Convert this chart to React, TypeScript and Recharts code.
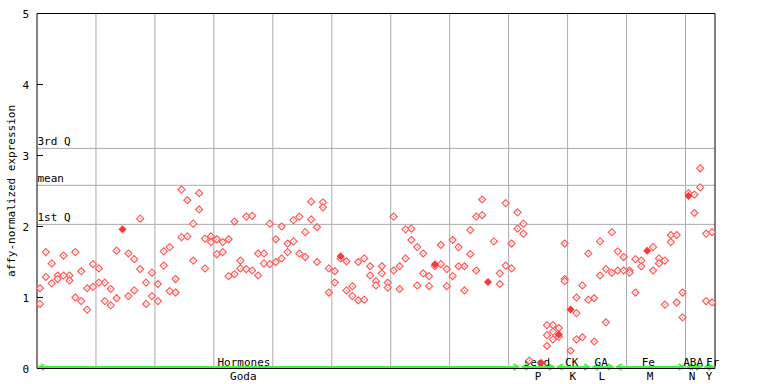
import React from "react";
import {
  ScatterChart,
  Scatter,
  XAxis,
  YAxis,
  ReferenceLine,
  ReferenceDot,
} from "recharts";

const FONT = "'DejaVu Sans Mono', monospace";
const RED = "#ff5a5a";
const GREEN = "#3cf53c";
const GRID = "#aaaaaa";

// one value per sample column (115 columns), two replicates each
const hi: (number | null)[] = [
  1.13, 1.64, 1.48, 1.31, 1.59, 1.31, 1.64, 1.37, 1.13, 1.47,
  1.41, 1.21, 1.12, 1.66, null, 1.62, 1.54, 2.11, 1.21, 1.35,
  1.19, 1.65, 1.71, 1.26, 2.52, 2.37, 2.04, 2.47, 1.83, 1.86,
  1.82, 1.78, 1.82, 2.07, 1.52, 2.14, 2.15, 1.62, 1.62, 2.04,
  1.82, 2.0, 1.76, 2.09, 2.14, 1.92, 2.35, 1.99, 2.34, 1.41,
  1.37, 1.55, 1.51, 1.16, 1.5, 1.55, 1.44, 1.23, 1.44, 1.21,
  2.14, 1.44, 1.96, 1.97, 1.71, 1.62, 1.3, 1.44, 1.74, 1.4,
  1.81, 1.71, 1.44, 1.95, 2.14, 2.38, null, 1.79, 1.34, 2.33,
  1.76, 2.2, 2.04, 0.11, null, null, 0.61, 0.61, 0.57, 1.76,
  0.25, 1.0, 1.17, 1.62, 0.99, 1.79, 1.4, 1.92, 1.65, 1.57,
  1.38, 1.54, 1.52, null, 1.71, 1.55, 1.52, 1.88, 1.88, 1.07,
  2.47, 2.45, 2.82, 1.9, 1.92,
];

const lo: (number | null)[] = [
  0.91, 1.29, 1.2, 1.26, 1.31, 1.24, 1.0, 0.95, 0.83, 1.15,
  1.21, 0.95, 0.89, 0.99, null, 1.02, 1.1, 1.4, 0.91, 1.02,
  0.95, 1.45, 1.09, 1.07, 1.85, 1.86, 1.52, 2.24, 1.41, 1.78,
  1.61, 1.64, 1.3, 1.33, 1.41, 1.4, 1.38, 1.31, 1.48, 1.47,
  1.5, 1.55, 1.64, 1.79, 1.62, 1.57, 2.1, 1.5, 2.27, 1.07,
  1.21, null, 1.1, 1.02, 0.96, 0.97, 1.31, 1.17, 1.34, 1.14,
  1.38, 1.12, 1.55, 1.81, 1.17, 1.34, 1.16, null, 1.47, 1.16,
  1.3, 1.44, 1.1, 1.61, 1.38, 2.16, null, null, 1.19, 1.45,
  1.41, 1.97, 1.9, null, null, null, 0.47, 0.52, 0.45, 1.26,
  null, 0.78, 0.44, 0.97, 0.38, 1.31, 0.65, 1.35, 1.38, 1.38,
  1.35, 1.07, 1.44, null, 1.38, 1.48, 0.9, 1.78, 0.93, 0.72,
  null, 2.19, 2.55, 0.95, 0.93,
];

const extraCols = [86, 87, 89, 91];
const extraVals = [0.32, 0.41, 1.23, 0.41];

// overlapping replicates, drawn solid
const solidCols = [14, 51, 67, 76, 85, 88, 90, 103, 110];
const solidVals = [1.96, 1.58, 1.47, 1.22, 0.08, 0.48, 0.83, 1.66, 2.43];

const quartileNames = ["3rd Q", "mean", "1st Q"];
const quartileValues = [3.1, 2.58, 2.03];

const groupNames = ["Hormones", "seed", "CK", "GA", "Fe", "ABA", "Fr"];
const groupCodes = ["Goda", "P", "K", "L", "M", "N", "Y"];
const groupStarts = [0, 82, 88, 94, 98, 110, 113];
const groupEnds = [82, 88, 94, 98, 110, 113, 115];
const nameAt = [35.1, 84.8, 90.7, 95.7, 103.7, 111.3, 114.6];
const codeAt = [35.0, 85.0, 90.9, 95.8, 104.0, 111.1, 114.0];

const yTicks = [0, 1, 2, 3, 4, 5];
const gridCols = [10, 20, 30, 40, 50, 60, 70, 80, 90, 100, 110];

const hollow: { x: number; y: number }[] = [];
hi.forEach((v, i) => v !== null && hollow.push({ x: i + 0.5, y: v }));
lo.forEach((v, i) => v !== null && hollow.push({ x: i + 0.5, y: v }));
extraCols.forEach((c, k) => hollow.push({ x: c + 0.5, y: extraVals[k] }));
const solid = solidCols.map((c, k) => ({ x: c + 0.5, y: solidVals[k] }));

const HollowDot = (p: any) => {
  const { cx, cy } = p;
  return (
    <g>
      <path
        d={`M${cx},${cy - 3.5}L${cx + 3.5},${cy}L${cx},${cy + 3.5}L${cx - 3.5},${cy}Z`}
        fill="#fff"
        stroke={RED}
        strokeWidth={1.2}
      />
      <rect x={cx - 0.5} y={cy - 0.5} width={1} height={1} fill={RED} />
    </g>
  );
};

const SolidDot = (p: any) => {
  const { cx, cy } = p;
  return (
    <path
      d={`M${cx},${cy - 4}L${cx + 4},${cy}L${cx},${cy + 4}L${cx - 4},${cy}Z`}
      fill="#ff3636"
    />
  );
};

const GreenArrow = (p: any) => {
  const x1 = p.x1 + 2;
  const x2 = p.x2 - 2;
  const y = p.y1 - 1.5;
  return (
    <g stroke={GREEN} strokeWidth={2} fill="none">
      <line x1={x1} x2={x2} y1={y} y2={y} />
      <path d={`M${x1 + 5},${y - 3}L${x1},${y}L${x1 + 5},${y + 3}`} />
      <path d={`M${x2 - 5},${y - 3}L${x2},${y}L${x2 - 5},${y + 3}`} />
    </g>
  );
};

const App: React.FC = () => {
  return (
    <div style={{ position: "absolute", left: 0, top: 0, background: "#fff" }}>
      <ScatterChart
        width={768}
        height={384}
        margin={{ top: 13.5, right: 0, bottom: 0, left: 0 }}
      >
        <XAxis
          dataKey="x"
          type="number"
          domain={[0, 115]}
          ticks={codeAt}
          interval={0}
          height={15.5}
          tickLine={false}
          axisLine={{ stroke: "#000" }}
          tick={(p: any) => {
            const k = codeAt.indexOf(p.payload.value);
            return (
              <text
                x={p.x}
                y={p.y + 3}
                textAnchor="middle"
                fontFamily={FONT}
                fontSize={11}
                fill="#000"
              >
                {groupCodes[k]}
              </text>
            );
          }}
        />
        <YAxis
          yAxisId="l"
          dataKey="y"
          type="number"
          domain={[0, 5]}
          ticks={yTicks}
          width={37}
          tickLine={false}
          axisLine={{ stroke: "#000" }}
          tick={(p: any) => (
            <g>
              <line x1={p.x + 8} x2={p.x + 14} y1={p.y} y2={p.y} stroke="#000" />
              <text
                x={p.x}
                y={p.y}
                dy={4}
                textAnchor="end"
                fontFamily={FONT}
                fontSize={11}
                fill="#000"
              >
                {p.payload.value}
              </text>
            </g>
          )}
          label={{
            content: (lp: any) => {
              const vb = lp.viewBox;
              const x = vb.x + 15;
              const y = vb.y + vb.height / 2;
              return (
                <text
                  x={x}
                  y={y}
                  transform={`rotate(-90 ${x} ${y})`}
                  textAnchor="middle"
                  fontFamily={FONT}
                  fontSize={11}
                  fill="#000"
                >
                  affy-normalized expression
                </text>
              );
            },
          }}
        />
        <YAxis
          yAxisId="r"
          orientation="right"
          type="number"
          domain={[0, 5]}
          ticks={yTicks}
          width={53}
          tickLine={false}
          axisLine={{ stroke: "#000" }}
          tick={(p: any) => (
            <line x1={p.x - 14} x2={p.x - 8} y1={p.y} y2={p.y} stroke="#000" />
          )}
        />

        {gridCols.map((c) => (
          <ReferenceLine key={`g${c}`} yAxisId="l" x={c} stroke={GRID} />
        ))}
        {quartileValues.map((v, i) => (
          <ReferenceLine
            key={`q${i}`}
            yAxisId="l"
            y={v}
            stroke={GRID}
            label={{
              content: (lp: any) => (
                <text
                  x={lp.viewBox.x + 0.5}
                  y={lp.viewBox.y - 3}
                  fontFamily={FONT}
                  fontSize={11}
                  fill="#000"
                >
                  {quartileNames[i]}
                </text>
              ),
            }}
          />
        ))}
        <ReferenceLine yAxisId="l" y={5} stroke="#000" ifOverflow="visible" />

        {groupStarts.map((s, i) => (
          <ReferenceLine
            key={`a${i}`}
            yAxisId="l"
            segment={[
              { x: s, y: 0 },
              { x: groupEnds[i], y: 0 },
            ]}
            ifOverflow="visible"
            shape={GreenArrow}
          />
        ))}
        {groupNames.map((n, i) => (
          <ReferenceDot
            key={`n${i}`}
            yAxisId="l"
            x={nameAt[i]}
            y={0}
            ifOverflow="visible"
            shape={(p: any) => (
              <text
                x={p.cx}
                y={p.cy - 3}
                textAnchor="middle"
                fontFamily={FONT}
                fontSize={11}
                fill="#000"
              >
                {n}
              </text>
            )}
          />
        ))}

        <Scatter
          yAxisId="l"
          data={hollow}
          shape={HollowDot}
          isAnimationActive={false}
        />
        <Scatter
          yAxisId="l"
          data={solid}
          shape={SolidDot}
          isAnimationActive={false}
        />
      </ScatterChart>
    </div>
  );
};

export default App;
